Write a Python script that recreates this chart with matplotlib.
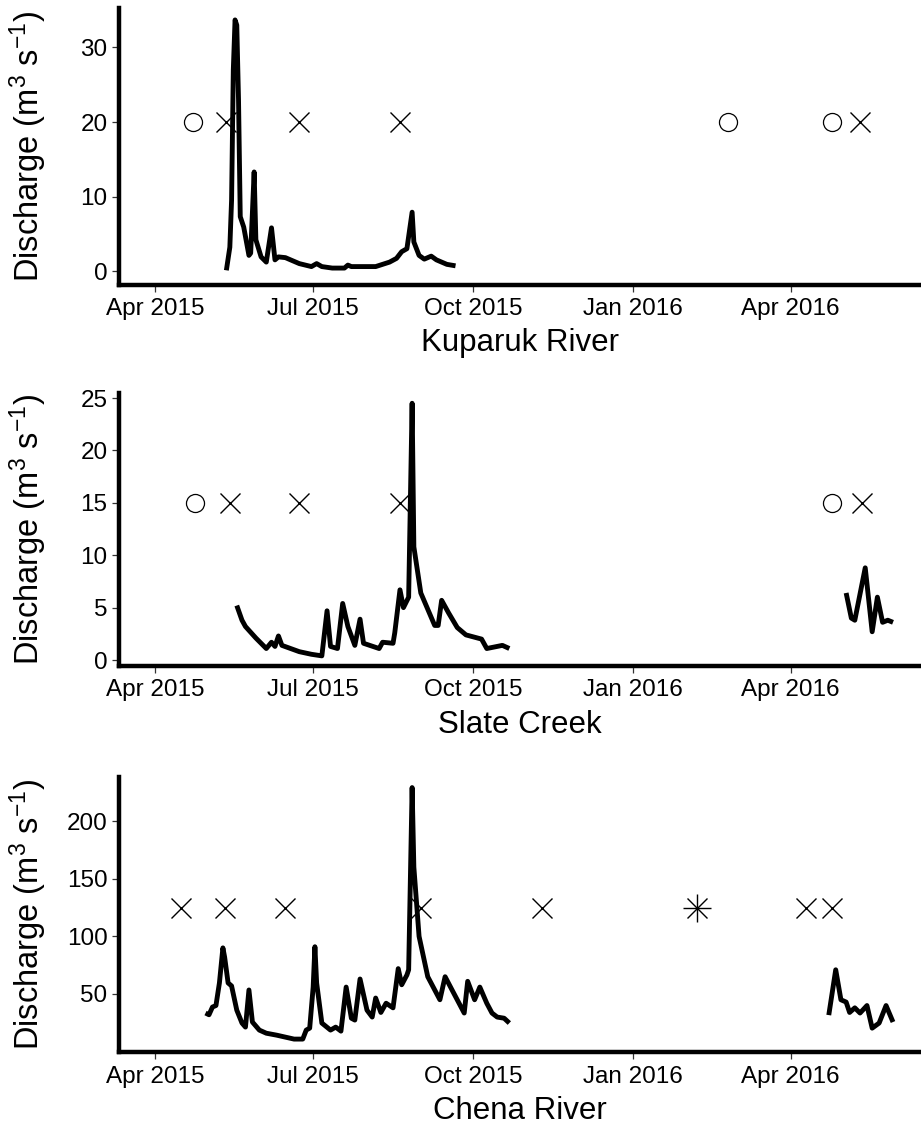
import matplotlib
matplotlib.use('Agg')
import matplotlib.pyplot as plt
import matplotlib.dates as mdates
import matplotlib.transforms as mtransforms
import pandas as pd

plt.rcParams['font.family'] = ['Liberation Sans', 'DejaVu Sans']
plt.rcParams['mathtext.fontset'] = 'custom'
plt.rcParams['mathtext.rm'] = 'Liberation Sans'
plt.rcParams['mathtext.it'] = 'Liberation Sans:italic'
plt.rcParams['mathtext.bf'] = 'Liberation Sans:bold'

# ---- Kuparuk River discharge (m3/s) ----
kuparuk_2015_dates = ['2015-05-12', '2015-05-14', '2015-05-15', '2015-05-16', '2015-05-17',
                      '2015-05-18', '2015-05-19', '2015-05-20', '2015-05-22', '2015-05-25',
                      '2015-05-26', '2015-05-28', '2015-05-29', '2015-06-01', '2015-06-04',
                      '2015-06-07', '2015-06-09', '2015-06-11', '2015-06-15', '2015-06-23',
                      '2015-06-30', '2015-07-03', '2015-07-06', '2015-07-12', '2015-07-19',
                      '2015-07-21', '2015-07-23', '2015-08-06', '2015-08-14', '2015-08-18',
                      '2015-08-21', '2015-08-24', '2015-08-27', '2015-08-28', '2015-08-31',
                      '2015-09-03', '2015-09-07', '2015-09-10', '2015-09-16', '2015-09-21']
kuparuk_2015_q = [0.1, 3.2, 9.5, 27.0, 33.7,
                  33.0, 23.0, 7.3, 5.9, 2.1,
                  2.4, 13.3, 4.2, 1.9, 1.2,
                  5.8, 1.5, 1.9, 1.8, 1.0,
                  0.6, 1.0, 0.6, 0.4, 0.4,
                  0.8, 0.6, 0.6, 1.2, 1.7,
                  2.6, 3.0, 7.9, 3.9, 2.1,
                  1.6, 2.0, 1.5, 0.9, 0.7]
kuparuk_circles = ['2015-04-23', '2016-02-25', '2016-04-25']
kuparuk_crosses = ['2015-05-12', '2015-06-23', '2015-08-20', '2016-05-11']
kuparuk_level = 20

# ---- Slate Creek discharge (m3/s) ----
slate_2015_dates = ['2015-05-18', '2015-05-21', '2015-05-23', '2015-05-29', '2015-06-04',
                    '2015-06-07', '2015-06-09', '2015-06-11', '2015-06-13', '2015-06-23',
                    '2015-06-30', '2015-07-06', '2015-07-09', '2015-07-11', '2015-07-15',
                    '2015-07-18', '2015-07-21', '2015-07-25', '2015-07-28', '2015-07-30',
                    '2015-08-08', '2015-08-10', '2015-08-16', '2015-08-17', '2015-08-20',
                    '2015-08-22', '2015-08-25', '2015-08-27', '2015-08-28', '2015-09-01',
                    '2015-09-09', '2015-09-11', '2015-09-13', '2015-09-17', '2015-09-22',
                    '2015-09-27', '2015-10-06', '2015-10-09', '2015-10-18', '2015-10-22']
slate_2015_q = [5.2, 3.8, 3.2, 2.1, 1.1,
                1.7, 1.3, 2.3, 1.4, 0.8,
                0.55, 0.4, 4.7, 1.3, 1.1,
                5.4, 3.2, 1.4, 3.9, 1.6,
                1.1, 1.7, 1.6, 2.6, 6.7,
                5.0, 6.0, 24.5, 10.8, 6.4,
                3.3, 3.3, 5.7, 4.5, 3.1,
                2.4, 2.0, 1.1, 1.4, 1.1]
slate_2016_dates = ['2016-05-03', '2016-05-06', '2016-05-08', '2016-05-14', '2016-05-18',
                    '2016-05-21', '2016-05-24', '2016-05-27', '2016-05-30']
slate_2016_q = [6.4, 4.0, 3.8, 8.8, 2.7, 6.0, 3.6, 3.8, 3.6]
slate_circles = ['2015-04-24', '2016-04-25']
slate_crosses = ['2015-05-14', '2015-06-23', '2015-08-20', '2016-05-12']
slate_level = 15

# ---- Chena River discharge (m3/s) ----
chena_2015_dates = ['2015-04-30', '2015-05-02', '2015-05-04', '2015-05-06', '2015-05-08',
                    '2015-05-10', '2015-05-11', '2015-05-13', '2015-05-15', '2015-05-18',
                    '2015-05-21', '2015-05-23', '2015-05-25', '2015-05-27', '2015-05-31',
                    '2015-06-04', '2015-06-10', '2015-06-15', '2015-06-20', '2015-06-25',
                    '2015-06-27', '2015-06-29', '2015-07-01', '2015-07-02', '2015-07-03',
                    '2015-07-06', '2015-07-11', '2015-07-14', '2015-07-17', '2015-07-20',
                    '2015-07-23', '2015-07-25', '2015-07-28', '2015-08-01', '2015-08-04',
                    '2015-08-06', '2015-08-09', '2015-08-12', '2015-08-16', '2015-08-19',
                    '2015-08-21', '2015-08-24', '2015-08-25', '2015-08-27', '2015-08-28',
                    '2015-08-31', '2015-09-05', '2015-09-12', '2015-09-15', '2015-09-19',
                    '2015-09-26', '2015-09-28', '2015-10-02', '2015-10-05', '2015-10-09',
                    '2015-10-12', '2015-10-15', '2015-10-19', '2015-10-22']
chena_2015_q = [33.5, 32.0, 38.7, 40.0, 59.6,
                90.0, 82.0, 59.6, 57.0, 36.0,
                24.8, 21.3, 53.5, 25.7, 18.7,
                16.0, 14.3, 12.6, 10.9, 10.9,
                18.7, 20.4, 56.0, 91.0, 59.6,
                24.8, 18.7, 21.3, 17.8, 56.0,
                29.0, 27.4, 63.0, 36.0, 30.0,
                46.5, 34.0, 42.0, 38.0, 72.0,
                58.0, 66.5, 71.0, 229.0, 160.0,
                100.0, 65.0, 45.0, 65.0, 53.5,
                33.5, 61.0, 45.0, 56.0, 42.0,
                33.5, 30.0, 29.0, 24.8]
chena_2016_dates = ['2016-04-23', '2016-04-27', '2016-04-30', '2016-05-03', '2016-05-05',
                    '2016-05-08', '2016-05-11', '2016-05-15', '2016-05-18', '2016-05-22',
                    '2016-05-26', '2016-05-30']
chena_2016_q = [31.7, 71.0, 45.0, 43.0, 34.0, 38.0, 33.5, 40.0, 20.4, 24.8, 40.0, 25.7]
chena_crosses = ['2015-04-16', '2015-05-11', '2015-06-15', '2015-09-01', '2015-11-10',
                 '2016-04-10', '2016-04-25']
chena_stars = ['2016-02-07']
chena_level = 125

x_start = '2015-03-11 10:00'
x_end = '2016-06-15 03:00'
tick_dates = ['2015-04-01', '2015-07-01', '2015-10-01', '2016-01-01', '2016-04-01']


def markerRow(ax, dates, level, marker, size, width):
    d = pd.to_datetime(dates)
    ax.plot(d, [level] * len(d), linestyle='none', marker=marker, markersize=size,
            markerfacecolor='none', markeredgecolor='black', markeredgewidth=width, zorder=2)


def drawPanel(fig, rect, segments, circles, crosses, stars, level, ylim, yticks, name):
    ax = fig.add_axes(rect)

    if circles:
        markerRow(ax, circles, level, 'o', 13, 0.9)
    if crosses:
        markerRow(ax, crosses, level, 'x', 14.5, 1.0)
    if stars:
        markerRow(ax, stars, level, 'x', 14.5, 1.0)
        markerRow(ax, stars, level, '+', 20, 1.0)

    for dates, q in segments:
        ax.plot(pd.to_datetime(dates), q, color='black', linewidth=3.5,
                solid_joinstyle='round', solid_capstyle='butt', zorder=3)

    ax.set_xlim(pd.Timestamp(x_start), pd.Timestamp(x_end))
    ax.set_ylim(ylim)
    ax.set_yticks(yticks)
    ax.set_xticks(pd.to_datetime(tick_dates))
    ax.xaxis.set_major_formatter(mdates.DateFormatter('%b %Y'))

    for side in ['top', 'right']:
        ax.spines[side].set_visible(False)
    for side in ['left', 'bottom']:
        ax.spines[side].set_linewidth(3.2)
        ax.spines[side].set_capstyle('projecting')

    ax.tick_params(axis='both', length=5.2, width=0.9, color='#333333',
                   labelsize=17.5, labelcolor='black')
    ax.tick_params(axis='x', pad=4.3)
    ax.tick_params(axis='y', pad=3.4)

    # river name sits on a fixed baseline below the date axis
    ax.set_xlabel(name, fontsize=22.5)
    below = mtransforms.ScaledTranslation(0, -0.665, fig.dpi_scale_trans)
    ax.xaxis.set_label_coords(0.5, 0, transform=ax.transAxes + below)
    ax.xaxis.label.set_verticalalignment('baseline')

    ax.set_ylabel('Discharge (m$^3$ s$^{-1}$)', fontsize=23.5)
    left = mtransforms.ScaledTranslation(-0.70, 0, fig.dpi_scale_trans)
    ax.yaxis.set_label_coords(0, 0.5, transform=ax.transAxes + left)
    return ax


def main():
    fig = plt.figure(figsize=(9.21, 11.26), dpi=100)

    drawPanel(fig, [0.1297, 0.7473, 0.8703, 0.2456],
              [(kuparuk_2015_dates, kuparuk_2015_q)],
              kuparuk_circles, kuparuk_crosses, None, kuparuk_level,
              (-1.81, 35.3), [0, 10, 20, 30], 'Kuparuk River')

    drawPanel(fig, [0.1297, 0.4085, 0.8703, 0.2425],
              [(slate_2015_dates, slate_2015_q), (slate_2016_dates, slate_2016_q)],
              slate_circles, slate_crosses, None, slate_level,
              (-0.57, 25.48), [0, 5, 10, 15, 20, 25], 'Slate Creek')

    drawPanel(fig, [0.1297, 0.0653, 0.8703, 0.2449],
              [(chena_2015_dates, chena_2015_q), (chena_2016_dates, chena_2016_q)],
              None, chena_crosses, chena_stars, chena_level,
              (-0.7, 238.4), [50, 100, 150, 200], 'Chena River')

    fig.savefig('out.png', dpi=100, facecolor='white')


if __name__ == "__main__":
    main()
